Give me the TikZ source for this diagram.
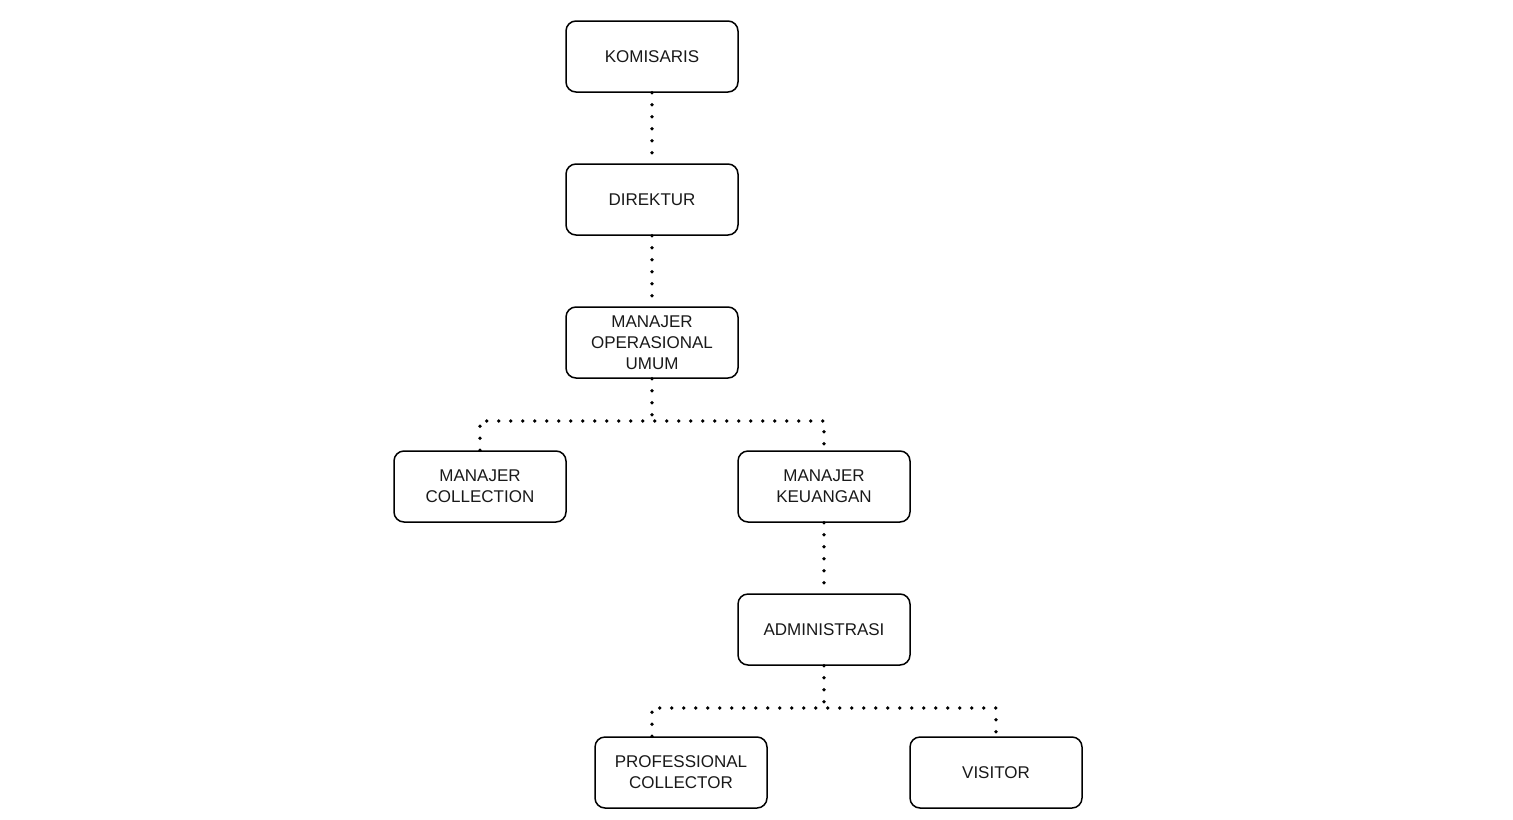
\documentclass[tikz,border=0pt]{standalone}
\usepackage{fontspec}
\setmainfont{Liberation Sans}
\begin{document}
\begin{tikzpicture}[x=0.5pt,y=-0.5pt,
  unit/.style={draw=black, line width=0.75pt, rounded corners=5pt,
    minimum width=86pt, minimum height=35.5pt, inner sep=0pt,
    align=center, text=black!90, font=\fontsize{8.5}{10.5}\selectfont},
  link/.style={line width=1.9pt, line cap=round, dash pattern=on 0pt off 6pt}]
\useasboundingbox (0,0) rectangle (1513,819);
% positions
\node[unit] (kom) at (652,56.5) {KOMISARIS};
\node[unit] (dir) at (652,199.5) {DIREKTUR};
\node[unit] (mou) at (652,342.5) {MANAJER\\OPERASIONAL\\UMUM};
\node[unit] (mcol) at (480,486.5) {MANAJER\\COLLECTION};
\node[unit] (mkeu) at (824,486.5) {MANAJER\\KEUANGAN};
\node[unit] (adm) at (824,629.5) {ADMINISTRASI};
\node[unit] (pc) at (681,772.5) {PROFESSIONAL\\COLLECTOR};
\node[unit] (vis) at (996,772.5) {VISITOR};
\coordinate (j1) at (652,421);
\coordinate (j2) at (824,708);
% connectors
\draw[link] (kom.south) -- (dir.north);
\draw[link] (dir.south) -- (mou.north);
\draw[link] (mou.south) -- (j1);
\draw[link] (mcol.north) |- (j1) -| (mkeu.north);
\draw[link] (mkeu.south) -- (adm.north);
\draw[link] (adm.south) -- (j2);
\draw[link] ([xshift=-14.5pt]pc.north) |- (j2) -| (vis.north);
\end{tikzpicture}
\end{document}
